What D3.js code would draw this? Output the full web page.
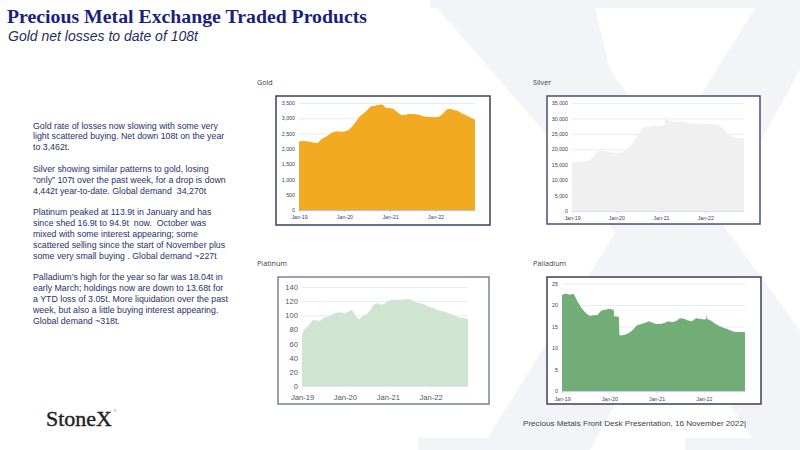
<!DOCTYPE html>
<html>
<head>
<meta charset="utf-8">
<script src="https://cdn.jsdelivr.net/npm/d3@7"></script>
<style>
  body { margin: 0; background: #fff; }
  svg { display: block; }
</style>
</head>
<body>
<svg id="slide" width="800" height="450"></svg>
<script>
// --- Données ---
const months = [
  "2019-01-01","2019-02-01","2019-03-01","2019-04-01","2019-05-01","2019-06-01",
  "2019-07-01","2019-08-01","2019-09-01","2019-10-01","2019-11-01","2019-12-01",
  "2020-01-01","2020-02-01","2020-03-01","2020-04-01","2020-05-01","2020-06-01",
  "2020-07-01","2020-08-01","2020-09-01","2020-10-01","2020-11-01","2020-12-01",
  "2021-01-01","2021-02-01","2021-03-01","2021-04-01","2021-05-01","2021-06-01",
  "2021-07-01","2021-08-01","2021-09-01","2021-10-01","2021-11-01","2021-12-01",
  "2022-01-01","2022-02-01","2022-03-01","2022-04-01","2022-05-01","2022-06-01",
  "2022-07-01","2022-08-01","2022-09-01","2022-10-01","2022-11-15"
];

const goldValues = [
  2240,2260,2250,2230,2200,2190,2320,2390,2470,2540,2580,2560,
  2570,2610,2720,2890,3060,3160,3260,3390,3410,3440,3450,3340,
  3340,3300,3200,3110,3110,3150,3140,3130,3100,3060,3050,3040,
  3030,3060,3150,3290,3310,3260,3250,3160,3110,3040,2950
];

const silverValues = [
  16000,16000,16050,16100,16200,16500,17800,19200,19500,19400,19200,18900,
  18900,19000,19300,20600,21300,23200,24900,26900,27300,27200,27700,27400,
  27700,28500,29400,29000,28800,29000,28900,28700,28500,28300,28250,28250,
  28100,28150,28000,28100,27600,26500,25000,24300,23800,23600,23600
];
const silverExtra = [["2021-01-27", 27800], ["2021-02-03", 31000], ["2021-02-10", 30000]];

const platinumValues = [
  73,82,86,93,93,92,96,98,99,103,104,104,
  103,105,108,99,94,99,101,106,115,117,115,116,
  120,122,122,122,122,123,123,121,118,117,116,113,
  111,110,107,106,105,103,101,99,97,96,95
];

const palladiumValues = [
  22.3,22.7,22.4,22.6,20.8,19.3,18.2,17.5,17.6,17.7,18.7,18.9,
  19.1,18.9,17.3,12.9,13.1,13.5,14.2,15.3,15.5,15.8,16.2,15.9,
  15.6,15.6,15.8,16.2,16.0,16.3,16.9,16.8,16.4,16.2,16.9,16.8,
  16.6,16.7,16.3,15.6,15.1,14.7,14.4,14.0,13.7,13.7,13.7
];
const palladiumExtra = [
  ["2020-02-05", 18.9], ["2020-02-08", 17.4], ["2020-03-16", 17.2], ["2020-03-19", 13.0],
  ["2022-01-18", 16.7], ["2022-01-21", 17.9], ["2022-01-25", 16.9]
];

const goldTicks = [0, 500, 1000, 1500, 2000, 2500, 3000, 3500];
const silverTicks = [0, 5000, 10000, 15000, 20000, 25000, 30000, 35000];
const platinumTicks = [0, 20, 40, 60, 80, 100, 120, 140];
const palladiumTicks = [0, 5, 10, 15, 20, 25];
const xTickDates = ["2019-01-01", "2020-01-01", "2021-01-01", "2022-01-01"];

const commentary = [
  ["Gold rate of losses now slowing with some very",
   "light scattered buying. Net down 108t on the year",
   "to 3,462t."],
  ["Silver showing similar patterns to gold, losing",
   "\u201conly\u201d 107t over the past week, for a drop is down",
   "4,442t year-to-date. Global demand  34,270t"],
  ["Platinum peaked at 113.9t in January and has",
   "since shed 16.9t to 94.9t  now.  October was",
   "mixed with some interest appearing; some",
   "scattered selling since the start of November plus",
   "some very small buying . Global demand ~227t"],
  ["Palladium\u2019s high for the year so far was 18.04t in",
   "early March; holdings now are down to 13.68t for",
   "a YTD loss of 3.05t. More liquidation over the past",
   "week, but also a little buying interest appearing.",
   "Global demand ~318t."]
];

// --- Mise en page ---
const svg = d3.select("#slide");
const parse = d3.isoParse;
const sans = "'Liberation Sans', Arial, sans-serif";

// Filigrane "X" en fond
const watermark = [
  [[430,0],[593,0],[610,70],[800,330],[800,450],[760,450],[560,150]],
  [[760,0],[800,0],[800,70],[590,450],[480,450]],
  [[430,0],[800,0],[800,8],[430,8]],
  [[418,438],[588,438],[588,450],[418,450]],
  [[685,438],[800,438],[800,450],[685,450]]
];
svg.selectAll(".wm")
  .data(watermark)
  .enter()
  .append("path")
  .attr("class", "wm")
  .attr("d", d => d3.line()(d) + "Z")
  .attr("fill", "#f3f4f7");

// Titre
svg.append("text")
  .attr("x", 7).attr("y", 23)
  .attr("font-family", "'Liberation Serif', 'Times New Roman', serif")
  .attr("font-weight", "bold")
  .attr("font-size", 19.8)
  .attr("fill", "#1b1f7c")
  .text("Precious Metal Exchange Traded Products");

svg.append("text")
  .attr("x", 8).attr("y", 40.5)
  .attr("font-family", sans)
  .attr("font-style", "italic")
  .attr("font-size", 14)
  .attr("fill", "#1f2d60")
  .text("Gold net losses to date of 108t");

// Commentaire
const lineH = 10.85;
let lineIdx = 0;
commentary.forEach(par => {
  par.forEach(line => {
    svg.append("text")
      .attr("x", 33)
      .attr("y", 128.5 + lineIdx * lineH)
      .attr("font-family", sans)
      .attr("font-size", 8.8)
      .attr("fill", "#283168")
      .style("white-space", "pre")
      .text(line);
    lineIdx++;
  });
  lineIdx++;
});

// Logo et pied de page
svg.append("text")
  .attr("x", 46).attr("y", 425.5)
  .attr("font-family", "'Liberation Serif', 'Times New Roman', serif")
  .attr("font-size", 22)
  .attr("fill", "#1e1e1e")
  .attr("stroke", "#1e1e1e")
  .attr("stroke-width", 0.4)
  .text("StoneX");
svg.append("text")
  .attr("x", 114).attr("y", 412)
  .attr("font-family", sans)
  .attr("font-size", 3)
  .attr("fill", "#1e1e1e")
  .text("\u00ae");

svg.append("text")
  .attr("x", 523).attr("y", 426)
  .attr("font-family", "'Liberation Sans Narrow', 'Arial Narrow', sans-serif")
  .attr("font-size", 7.6)
  .attr("fill", "#404040")
  .attr("textLength", 223)
  .attr("lengthAdjust", "spacingAndGlyphs")
  .text("Precious Metals Front Desk Presentation, 16 November 2022|");

// --- Graphiques ---
function toSeries(values, extra) {
  const pts = values.map((v, i) => ({date: parse(months[i]), v: v}));
  (extra || []).forEach(e => pts.push({date: parse(e[0]), v: e[1]}));
  return pts.sort((a, b) => a.date - b.date);
}

const charts = [
  {name: "Gold", series: toSeries(goldValues), ticks: goldTicks, color: "#f1aa22",
   label: [257, 85], frame: [276, 96, 490, 225], plot: [299, 475, 103, 210],
   font: 5.3, tickColor: "#354063", frameColor: "#3b405c", xPad: 7.5, axisColor: "#9db4dc"},
  {name: "Silver", series: toSeries(silverValues, silverExtra), ticks: silverTicks, color: "#f0f0f0",
   label: [533, 85], frame: [547, 96, 760, 224], plot: [572, 744, 103, 211],
   font: 5.3, tickColor: "#354063", frameColor: "#4a5070", xPad: 7.5, axisColor: "#c9d6ea"},
  {name: "Platinum", series: toSeries(platinumValues), ticks: platinumTicks, color: "#d0e4d2",
   label: [257, 266], frame: [278, 277, 489, 404], plot: [302, 468, 287, 386],
   font: 7.6, tickColor: "#555555", frameColor: "#7a8098", xPad: 12, axisColor: "#d4e0ee"},
  {name: "Palladium", series: toSeries(palladiumValues, palladiumExtra), ticks: palladiumTicks, color: "#72ad78",
   label: [533, 266], frame: [547, 277, 761, 404], plot: [562, 745, 283.5, 391],
   font: 5.3, tickColor: "#354063", frameColor: "#3b405c", xPad: 8, axisColor: "#b9c9e4"}
];

const tickFmt = d3.timeFormat("%b-%y");

charts.forEach(c => {
  const [fx0, fy0, fx1, fy1] = c.frame;
  const [x0, x1, yTop, yBot] = c.plot;

  svg.append("text")
    .attr("x", c.label[0]).attr("y", c.label[1])
    .attr("font-family", "'Open Sans', sans-serif")
    .attr("font-size", 7.2)
    .attr("fill", "#404040")
    .text(c.name);

  svg.append("rect")
    .attr("x", fx0).attr("y", fy0)
    .attr("width", fx1 - fx0).attr("height", fy1 - fy0)
    .attr("fill", "#fff")
    .attr("stroke", c.frameColor)
    .attr("stroke-width", 1.5);

  const x = d3.scaleTime()
    .domain([parse(months[0]), parse(months[months.length - 1])])
    .range([x0, x1]);
  const y = d3.scaleLinear()
    .domain([0, d3.max(c.ticks)])
    .range([yBot, yTop]);

  // Grille
  const grid = svg.append("g")
    .attr("transform", `translate(${x0},0)`)
    .call(d3.axisLeft(y).tickValues(c.ticks.slice(1)).tickSize(-(x1 - x0)).tickFormat(""));
  grid.select(".domain").remove();
  grid.selectAll("line").attr("stroke", "#dce8f6").attr("stroke-width", 0.8);

  // Aire
  svg.append("path")
    .datum(c.series)
    .attr("d", d3.area().x(d => x(d.date)).y0(y(0)).y1(d => y(d.v)))
    .attr("fill", c.color);

  // Axe Y
  const yAxis = svg.append("g")
    .attr("transform", `translate(${x0},0)`)
    .call(d3.axisLeft(y).tickValues(c.ticks).tickSize(0).tickPadding(4).tickFormat(d3.format(",")));
  yAxis.select(".domain").remove();
  yAxis.selectAll("text")
    .attr("font-family", sans)
    .attr("font-size", c.font)
    .attr("fill", c.tickColor);

  // Axe X
  const xAxis = svg.append("g")
    .attr("transform", `translate(0,${y(0)})`)
    .call(d3.axisBottom(x).tickValues(xTickDates.map(parse)).tickSize(2).tickSizeOuter(0)
      .tickPadding(c.xPad - c.font * 0.75).tickFormat(tickFmt));
  xAxis.select(".domain").attr("stroke", c.axisColor).attr("stroke-width", 0.8);
  xAxis.selectAll("line").attr("stroke", c.axisColor).attr("stroke-width", 0.8);
  xAxis.selectAll("text")
    .attr("font-family", sans)
    .attr("font-size", c.font)
    .attr("fill", c.tickColor);
});
</script>
</body>
</html>
